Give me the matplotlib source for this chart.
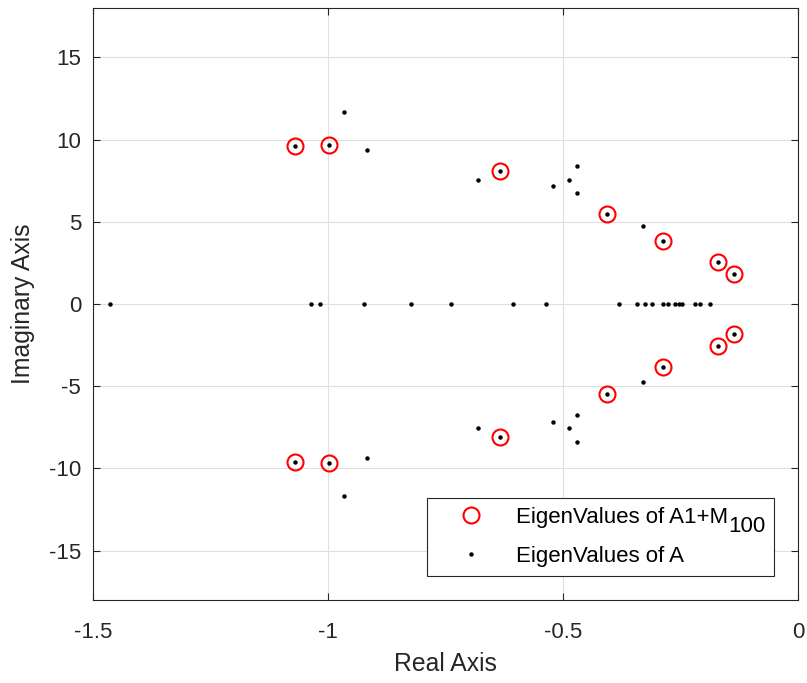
import matplotlib
matplotlib.use("Agg")
import matplotlib.pyplot as plt
import numpy as np

plt.rcParams['font.family'] = ['Liberation Sans', 'DejaVu Sans']

# eigenvalues of A1+M100 (upper half plane, mirrored below)
m_re = [-1.071, -0.997, -0.635, -0.406, -0.287, -0.170, -0.136]
m_im = [9.58, 9.69, 8.09, 5.45, 3.82, 2.54, 1.80]

# eigenvalues of A: complex pairs (upper half) and real ones
a_re = [-1.071, -0.997, -0.965, -0.918, -0.681, -0.635, -0.521, -0.488,
        -0.471, -0.470, -0.406, -0.330, -0.287, -0.170, -0.136]
a_im = [9.58, 9.69, 11.68, 9.38, 7.52, 8.09, 7.18, 7.57,
        8.39, 6.76, 5.45, 4.76, 3.82, 2.54, 1.80]
a_real = [-1.463, -1.037, -1.018, -0.924, -0.823, -0.739, -0.606, -0.536,
          -0.381, -0.343, -0.325, -0.311, -0.287, -0.277, -0.262, -0.254,
          -0.246, -0.220, -0.209, -0.187]

m_x = np.concatenate([m_re, m_re])
m_y = np.concatenate([m_im, -np.array(m_im)])
a_x = np.concatenate([a_re, a_re, a_real])
a_y = np.concatenate([a_im, -np.array(a_im), np.zeros(len(a_real))])

fig = plt.figure(figsize=(8.07, 6.83), dpi=100)
ax = fig.add_axes([0.1152, 0.1215, 0.8736, 0.8668])

ax.plot(m_x, m_y, 'o', mfc='none', mec='red', ms=11.5, mew=1.5,
        label='EigenValues of A1+M' + '\u2007' * 3)
ax.plot(a_x, a_y, 'o', color='black', ms=3.2, mew=0,
        label='EigenValues of A')

ax.set_xlim(-1.5, 0)
ax.set_ylim(-18, 18)
ax.set_xticks([-1.5, -1, -0.5, 0])
ax.set_xticklabels(['-1.5', '-1', '-0.5', '0'])
ax.set_yticks([-15, -10, -5, 0, 5, 10, 15])
ax.set_yticklabels(['-15', '-10', '-5', '0', '5', '10', '15'])
ax.grid(True, color='#e0e0e0', linewidth=0.8)
ax.set_axisbelow(True)
ax.tick_params(direction='in', top=True, right=True, labelsize=16,
               length=5, width=0.8, colors='#262626')
ax.tick_params(axis='x', pad=16)
ax.tick_params(axis='y', pad=8.5)
for s in ax.spines.values():
    s.set_color('#262626')
    s.set_linewidth(0.8)

ax.set_xlabel('Real Axis', fontsize=17.8, color='#262626', labelpad=6.5)
ax.set_ylabel('Imaginary Axis', fontsize=17.8, color='#262626', labelpad=10)

leg = ax.legend(loc='lower right', fontsize=16, fancybox=False,
                framealpha=1, edgecolor='#262626', borderpad=0.4,
                handletextpad=0.4, handlelength=3.2, labelspacing=0.82,
                borderaxespad=0, bbox_to_anchor=(0.966, 0.0405))
leg.get_frame().set_linewidth(0.8)

# subscript of M drawn at full size below the baseline
fig.canvas.draw()
bb = leg.get_texts()[0].get_window_extent()
fig.text(bb.x1 / fig.bbox.width, (bb.y0 - 9) / fig.bbox.height, '100',
         fontsize=16, ha='right', va='bottom')

plt.savefig('out.png', dpi=100)
